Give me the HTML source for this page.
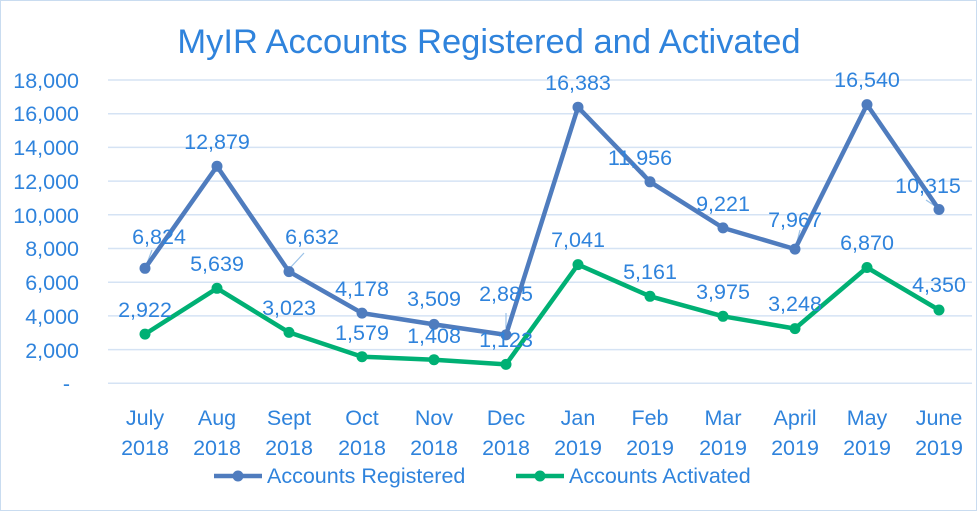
<!DOCTYPE html>
<html><head><style>body{margin:0;background:#fff}svg{display:block}text{font-family:"Liberation Sans",sans-serif;fill:#2f83dc}</style></head><body>
<svg width="977" height="511" viewBox="0 0 977 511" xmlns="http://www.w3.org/2000/svg">
<rect x="0.5" y="0.5" width="976" height="510" fill="#fff" stroke="#c9dcf0"/>
<text x="489" y="53" font-size="34.5" text-anchor="middle">MyIR Accounts Registered and Activated</text>
<g stroke="#d5e3f4" stroke-width="1.5">
<line x1="108" x2="972" y1="80" y2="80"/><line x1="108" x2="972" y1="113.7" y2="113.7"/><line x1="108" x2="972" y1="147.4" y2="147.4"/><line x1="108" x2="972" y1="181.1" y2="181.1"/><line x1="108" x2="972" y1="214.8" y2="214.8"/><line x1="108" x2="972" y1="248.5" y2="248.5"/><line x1="108" x2="972" y1="282.2" y2="282.2"/><line x1="108" x2="972" y1="315.9" y2="315.9"/><line x1="108" x2="972" y1="349.6" y2="349.6"/><line x1="108" x2="972" y1="383.3" y2="383.3"/>
</g>
<g font-size="21.5" text-anchor="end">
<text x="79" y="88">18,000</text><text x="79" y="121">16,000</text><text x="79" y="155">14,000</text><text x="79" y="189">12,000</text><text x="79" y="223">10,000</text><text x="79" y="256">8,000</text><text x="79" y="290">6,000</text><text x="79" y="324">4,000</text><text x="79" y="358">2,000</text><text x="70" y="391">-</text>
</g>
<g font-size="21.5" text-anchor="middle">
<text x="145" y="425">July</text><text x="145" y="455">2018</text>
<text x="217" y="425">Aug</text><text x="217" y="455">2018</text>
<text x="289" y="425">Sept</text><text x="289" y="455">2018</text>
<text x="362" y="425">Oct</text><text x="362" y="455">2018</text>
<text x="434" y="425">Nov</text><text x="434" y="455">2018</text>
<text x="506" y="425">Dec</text><text x="506" y="455">2018</text>
<text x="578" y="425">Jan</text><text x="578" y="455">2019</text>
<text x="650" y="425">Feb</text><text x="650" y="455">2019</text>
<text x="723" y="425">Mar</text><text x="723" y="455">2019</text>
<text x="795" y="425">April</text><text x="795" y="455">2019</text>
<text x="867" y="425">May</text><text x="867" y="455">2019</text>
<text x="939" y="425">June</text><text x="939" y="455">2019</text>
</g>
<g stroke="#9bc2e8" stroke-width="1.2">
<line x1="152" y1="250" x2="146" y2="266"/><line x1="304" y1="253" x2="290" y2="268"/><line x1="506" y1="313" x2="506" y2="328"/><line x1="642" y1="170" x2="650" y2="180"/><line x1="800" y1="230" x2="796" y2="246"/><line x1="926" y1="200" x2="938" y2="208"/>
</g>
<polyline fill="none" stroke="#4f7cbe" stroke-width="4.5" stroke-linejoin="round" points="145,268.3 217,166.3 289,271.6 362,313.1 434,324.4 506,334.9 578,107.2 650,181.8 723,227.9 795,249.1 867,104.6 939,209.5"/>
<polyline fill="none" stroke="#00b074" stroke-width="4.5" stroke-linejoin="round" points="145,334.1 217,288.3 289,332.4 362,356.7 434,359.7 506,364.4 578,264.6 650,296.3 723,316.3 795,328.6 867,267.5 939,310.0"/>
<g fill="#4f7cbe"><circle cx="145" cy="268.3" r="5.5"/><circle cx="217" cy="166.3" r="5.5"/><circle cx="289" cy="271.6" r="5.5"/><circle cx="362" cy="313.1" r="5.5"/><circle cx="434" cy="324.4" r="5.5"/><circle cx="506" cy="334.9" r="5.5"/><circle cx="578" cy="107.2" r="5.5"/><circle cx="650" cy="181.8" r="5.5"/><circle cx="723" cy="227.9" r="5.5"/><circle cx="795" cy="249.1" r="5.5"/><circle cx="867" cy="104.6" r="5.5"/><circle cx="939" cy="209.5" r="5.5"/></g>
<g fill="#00b074"><circle cx="145" cy="334.1" r="5.5"/><circle cx="217" cy="288.3" r="5.5"/><circle cx="289" cy="332.4" r="5.5"/><circle cx="362" cy="356.7" r="5.5"/><circle cx="434" cy="359.7" r="5.5"/><circle cx="506" cy="364.4" r="5.5"/><circle cx="578" cy="264.6" r="5.5"/><circle cx="650" cy="296.3" r="5.5"/><circle cx="723" cy="316.3" r="5.5"/><circle cx="795" cy="328.6" r="5.5"/><circle cx="867" cy="267.5" r="5.5"/><circle cx="939" cy="310.0" r="5.5"/></g>
<g font-size="21.5" text-anchor="middle">
<text x="159" y="244">6,824</text><text x="217" y="149">12,879</text><text x="312" y="244">6,632</text><text x="362" y="296">4,178</text><text x="434" y="306">3,509</text><text x="506" y="301">2,885</text><text x="578" y="90">16,383</text><text x="640" y="165">11,956</text><text x="723" y="211">9,221</text><text x="795" y="227">7,967</text><text x="867" y="87">16,540</text><text x="928" y="193">10,315</text>
<text x="145" y="317">2,922</text><text x="217" y="271">5,639</text><text x="289" y="315">3,023</text><text x="362" y="340">1,579</text><text x="434" y="343">1,408</text><text x="506" y="347">1,123</text><text x="578" y="247">7,041</text><text x="650" y="279">5,161</text><text x="723" y="299">3,975</text><text x="795" y="311">3,248</text><text x="867" y="250">6,870</text><text x="939" y="292">4,350</text>
</g>
<line x1="214" y1="476" x2="262" y2="476" stroke="#4f7cbe" stroke-width="4.5"/><circle cx="238" cy="476" r="5.5" fill="#4f7cbe"/>
<text x="267" y="483" font-size="21.5">Accounts Registered</text>
<line x1="516" y1="476" x2="564" y2="476" stroke="#00b074" stroke-width="4.5"/><circle cx="540" cy="476" r="5.5" fill="#00b074"/>
<text x="569" y="483" font-size="21.5">Accounts Activated</text>
</svg>
</body></html>
